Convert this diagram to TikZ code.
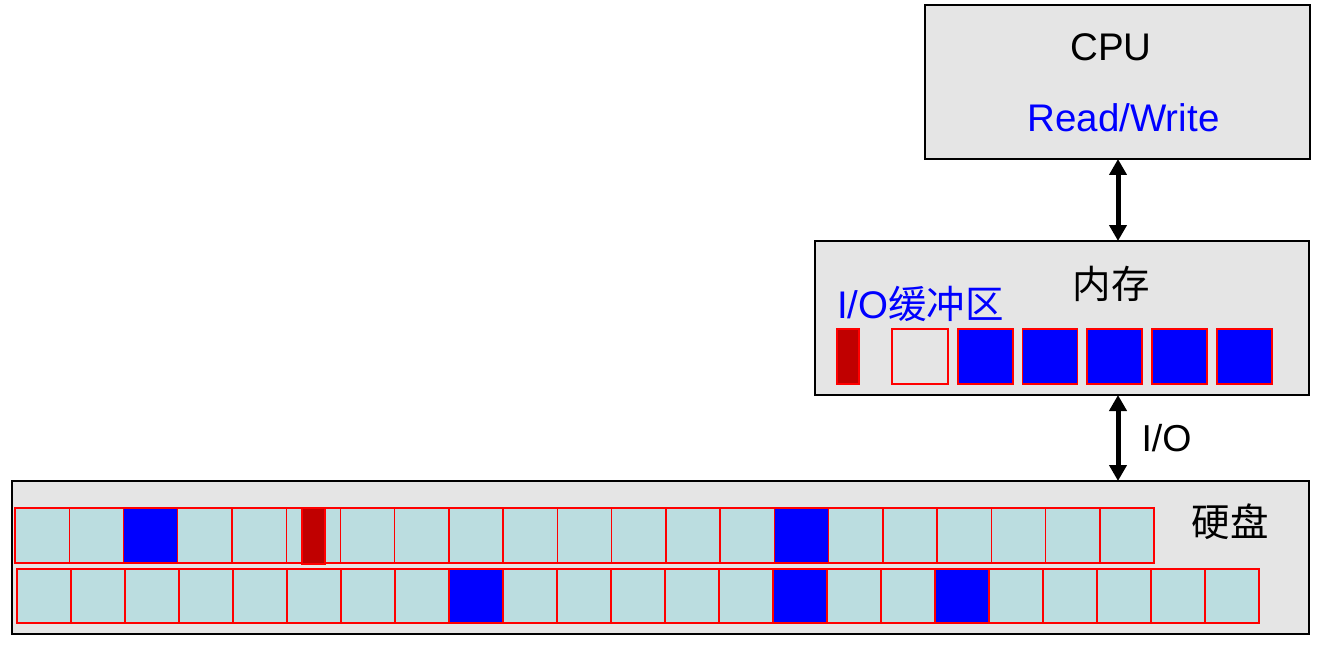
\documentclass[tikz,border=0pt]{standalone}
\usepackage{fontspec}
\setmainfont{Liberation Sans}
\newfontfamily\cjk{Noto Sans CJK SC}
\usetikzlibrary{arrows.meta}
\definecolor{boxgray}{HTML}{E5E5E5}
\definecolor{cellcyan}{HTML}{BBDDE0}
\definecolor{darkred}{HTML}{C00000}
\begin{document}
\begin{tikzpicture}[x=1pt,y=-1pt,
  panel/.style={draw=black, line width=1.6pt, fill=boxgray, inner sep=0pt, outer sep=0pt},
  cell/.style={draw=red, line width=1.4pt, fill=cellcyan},
  fullcell/.style={draw=red, line width=1.4pt, fill=blue},
  redcell/.style={draw=red, line width=1.4pt, fill=darkred},
  emptycell/.style={draw=red, line width=2.2pt, fill=boxgray},
  biarrow/.style={line width=5pt, {Triangle[length=16pt,width=17pt]}-{Triangle[length=16pt,width=17pt]}},
  big/.style={font=\fontsize{38.5}{42}\selectfont, inner sep=0pt}
]
\useasboundingbox (0,0) rectangle (1322,647);
% boxes
\node[panel, minimum width=385pt, minimum height=154pt] (cpu) at (1117.5,82) {};
\node[panel, minimum width=494pt, minimum height=154pt] (mem) at (1062,318) {};
\node[panel, minimum width=1297pt, minimum height=153pt] (disk) at (660.5,557.5) {};
% texts
\node[big] (cputxt) at (1111,47) {CPU};
\node[big, text=blue] (rw) at (1123.5,118) {Read/Write};
\node[big] (memtxt) at (1111,284) {\cjk 内存};
\node[big, text=blue] (buftxt) at (920.5,304) {I/O{\cjk 缓冲区}};
\node[big] (disktxt) at (1230,522) {\cjk 硬盘};
% arrows
\coordinate (ax) at (1118,0);
\draw[biarrow] (cpu.south -| ax) -- (mem.north -| ax);
\draw[biarrow] (mem.south -| ax) -- node[right=21pt, big, font=\fontsize{37.5}{42}\selectfont] (iolbl) {I/O} (disk.north -| ax);
% memory blocks
\draw[redcell] (837,329) rectangle (859,384);
\draw[emptycell] (892,329) rectangle (948,384);
\foreach \x in {958,1022.5,1087,1152,1217}
  \draw[fullcell] (\x,329) rectangle (\x+55,384);
% disk row 1
\foreach \i in {0,...,20}
  \draw[cell] ({15+54.24*\i},508) rectangle ({15+54.24*(\i+1)},563);
\foreach \i in {2,14}
  \draw[fullcell] ({15+54.24*\i},508) rectangle ({15+54.24*(\i+1)},563);
\draw[redcell] (302,508) rectangle (325,564);
% disk row 2
\foreach \i in {0,...,22}
  \draw[cell] ({17+54*\i},569) rectangle ({17+54*(\i+1)},623);
\foreach \i in {8,14,17}
  \draw[fullcell] ({17+54*\i},569) rectangle ({17+54*(\i+1)},623);
\end{tikzpicture}
\end{document}
